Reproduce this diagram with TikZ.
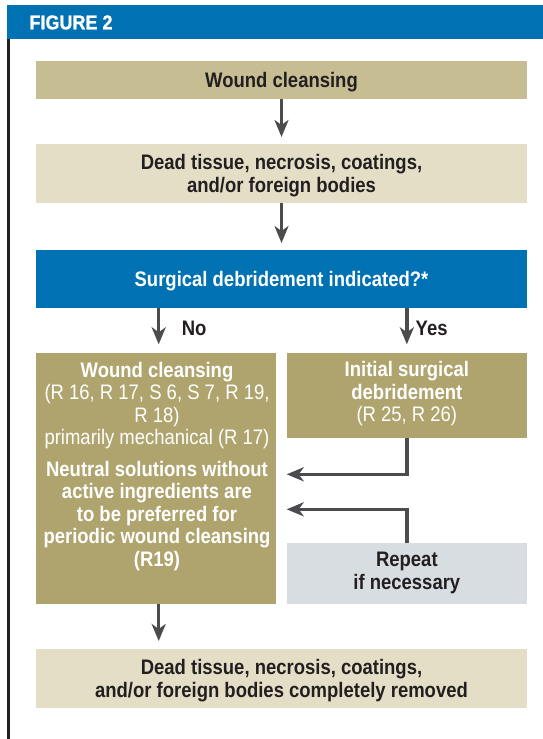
\documentclass[tikz,border=0pt]{standalone}
\usepackage{fontspec}
\setmainfont{Liberation Sans}[FakeStretch=0.88]
\newfontfamily\headfont{Liberation Sans Bold}[FakeStretch=0.9, FakeBold=1]
\usepackage{tikz}
\usetikzlibrary{arrows.meta}
\definecolor{headblue}{RGB}{0, 113, 178}
\definecolor{tancolor}{RGB}{198, 189, 147}
\definecolor{beigecolor}{RGB}{228, 222, 199}
\definecolor{olivecolor}{RGB}{176, 164, 110}
\definecolor{greycolor}{RGB}{216, 221, 226}
\definecolor{arrowcolor}{RGB}{76, 76, 78}
\definecolor{inkcolor}{RGB}{35, 31, 32}

\begin{document}
\begin{tikzpicture}[x=1pt, y=-1pt,
        box/.style={rectangle, inner sep=0pt, outer sep=0pt, minimum width=491pt},
        halfbox/.style={rectangle, inner sep=0pt, outer sep=0pt, minimum width=240pt},
        dtxt/.style={font=\fontsize{21}{22.5}\selectfont\bfseries, text=inkcolor, align=center, inner sep=0pt},
        wtxt/.style={font=\fontsize{21}{22.5}\selectfont, text=white, align=center, inner sep=0pt},
        arrow/.style={draw=arrowcolor, line width=3.3pt, -{Stealth[length=17pt, width=14pt, inset=5pt]}}
    ]
        \useasboundingbox (0,0) rectangle (543,739);

        % Header
        \node[rectangle, fill=headblue, inner sep=0pt, minimum width=535.7pt, minimum height=34.3pt] (hdr) at (275.15,22.15) {};
        \node[font=\headfont\fontsize{20}{22}\selectfont, text=white, anchor=base west, inner sep=0pt] (figlbl) at (29.3,29.3) {FIGURE 2};
        \draw[line width=2.7pt, inkcolor] (8.7,39.3) -- (8.7,739);

        % Wound cleansing
        \node[box, fill=tancolor, minimum height=38pt] (wclean) at (281.5,80) {};
        \node[dtxt] (wcleantxt) at (281.5,82.2) {Wound cleansing};

        % Dead tissue
        \node[box, fill=beigecolor, minimum height=58.7pt] (dead) at (281.5,173.35) {};
        \node[dtxt] (deadtxt) at (281.5,175.5) {Dead tissue, necrosis, coatings,\\and/or foreign bodies};

        % Decision
        \node[box, fill=headblue, minimum height=57.7pt] (surg) at (281.5,278.85) {};
        \node[dtxt, text=white] (surgtxt) at (281.5,281) {Surgical debridement indicated?*};

        % Branches
        \node[halfbox, fill=olivecolor, minimum height=250.7pt] (wcl2) at (156,478.65) {};
        \node[wtxt] (wcl2txt) at (157,466.4) {\textbf{Wound cleansing}\\(R 16, R 17, S 6, S 7, R 19,\\R 18)\\primarily mechanical (R 17)\\[9pt]\textbf{Neutral solutions without}\\\textbf{active ingredients are}\\\textbf{to be preferred for}\\\textbf{periodic wound cleansing}\\\textbf{(R19)}};

        \node[halfbox, fill=olivecolor, minimum height=84.2pt] (init) at (406.85,395.4) {};
        \node[wtxt] (inittxt) at (406.85,393.9) {\textbf{Initial surgical}\\\textbf{debridement}\\(R 25, R 26)};

        \node[halfbox, fill=greycolor, minimum height=61pt] (rep) at (406.85,573.5) {};
        \node[dtxt] (reptxt) at (406.85,573) {Repeat\\if necessary};

        % Result
        \node[box, fill=beigecolor, minimum height=59pt] (done) at (281.5,678.5) {};
        \node[dtxt] (donetxt) at (281.5,680.5) {Dead tissue, necrosis, coatings,\\and/or foreign bodies completely removed};

        % Labels
        \node[dtxt, anchor=base west] (nolbl) at (181.7,335) {No};
        \node[dtxt, anchor=base west] (yeslbl) at (415.5,335) {Yes};

        % Arrows
        \coordinate (lx) at (158.7,0);
        \coordinate (in1) at (286.7,474.3);
        \coordinate (in2) at (286.7,509.3);
        \draw[arrow, shorten >=7pt] (wclean) -- (dead);
        \draw[arrow, shorten >=7pt] (dead) -- (surg);
        \draw[arrow, shorten >=9pt] (surg.south -| lx) -- (wcl2.north -| lx);
        \draw[arrow, shorten >=9pt] (surg.south -| init) -- (init);
        \draw[arrow] (init.south) |- (in1);
        \draw[arrow] (rep.north) |- (in2);
        \draw[arrow, shorten >=8pt] (wcl2.south -| lx) -- (done.north -| lx);

    \end{tikzpicture}
\end{document}
